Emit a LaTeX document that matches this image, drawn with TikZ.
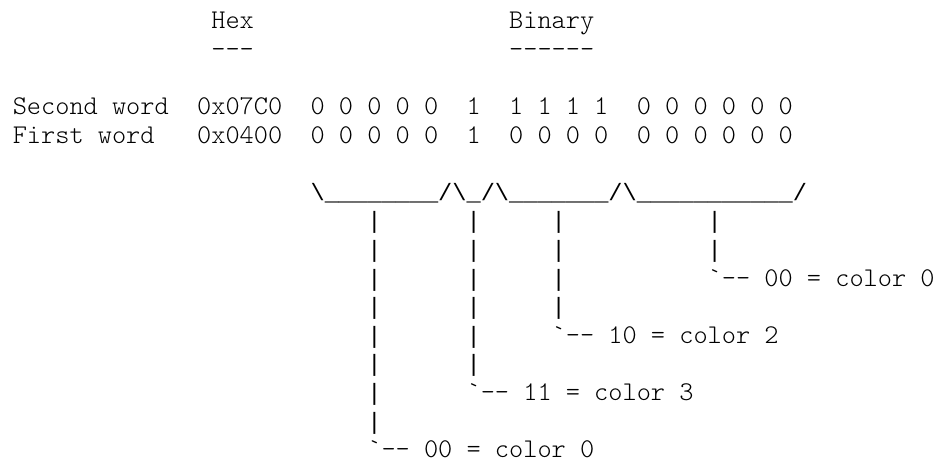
\documentclass[tikz,border=0pt]{standalone}
\usepackage{fontspec}
\setmonofont{Latin Modern Mono Light}
\newfontfamily\linefont{Liberation Mono}
\usetikzlibrary{positioning}

\begin{document}
\begin{tikzpicture}[
  x=6pt, y=12.1pt,
  every node/.style={anchor=base west, inner sep=0pt, outer sep=0pt},
  txt/.style={font=\ttfamily\fontsize{11.43}{13}\selectfont},
  bar/.style={font=\linefont\fontsize{10}{12}\selectfont},
  lab/.style={txt}
]
\useasboundingbox (-0.9,0) rectangle (65.73,-16.12);

% column headings
\node[txt] (hex) at (14,-1) {Hex};
\node[txt] (binary) at (35,-1) {Binary};
\node[txt] (hexrule) at (14,-2) {-{}-{}-};
\node[txt] (binrule) at (35,-2) {-{}-{}-{}-{}-{}-};

% the two words
\node[txt] (second) at (0,-4) {Second word};
\node[txt] (secondhex) at (13,-4) {0x07C0};
\node[txt] (secondb1) at (21,-4) {0 0 0 0 0};
\node[txt] (secondb2) at (32,-4) {1};
\node[txt] (secondb3) at (35,-4) {1 1 1 1};
\node[txt] (secondb4) at (44,-4) {0 0 0 0 0 0};

\node[txt] (first) at (0,-5) {First word};
\node[txt] (firsthex) at (13,-5) {0x0400};
\node[txt] (firstb1) at (21,-5) {0 0 0 0 0};
\node[txt] (firstb2) at (32,-5) {1};
\node[txt] (firstb3) at (35,-5) {0 0 0 0};
\node[txt] (firstb4) at (44,-5) {0 0 0 0 0 0};

% bit groups
\node[bar] (groups) at (21,-7) {\textbackslash\_\_\_\_\_\_\_\_/\textbackslash\_/\textbackslash\_\_\_\_\_\_\_/\textbackslash\_\_\_\_\_\_\_\_\_\_\_/};

% down strokes
\foreach \r in {8,...,15} \node[bar] (bara\r) at (25,-\r) {|};
\foreach \r in {8,...,13} \node[bar] (barb\r) at (32,-\r) {|};
\foreach \r in {8,...,11} \node[bar] (barc\r) at (38,-\r) {|};
\foreach \r in {8,9} \node[bar] (bard\r) at (49,-\r) {|};

% colour labels
\node[lab] (colord) at (49,-10) {\textasciigrave-{}- 00 = color 0};
\node[lab] (colorc) at (38,-12) {\textasciigrave-{}- 10 = color 2};
\node[lab] (colorb) at (32,-14) {\textasciigrave-{}- 11 = color 3};
\node[lab] (colora) at (25,-16) {\textasciigrave-{}- 00 = color 0};

\end{tikzpicture}
\end{document}
